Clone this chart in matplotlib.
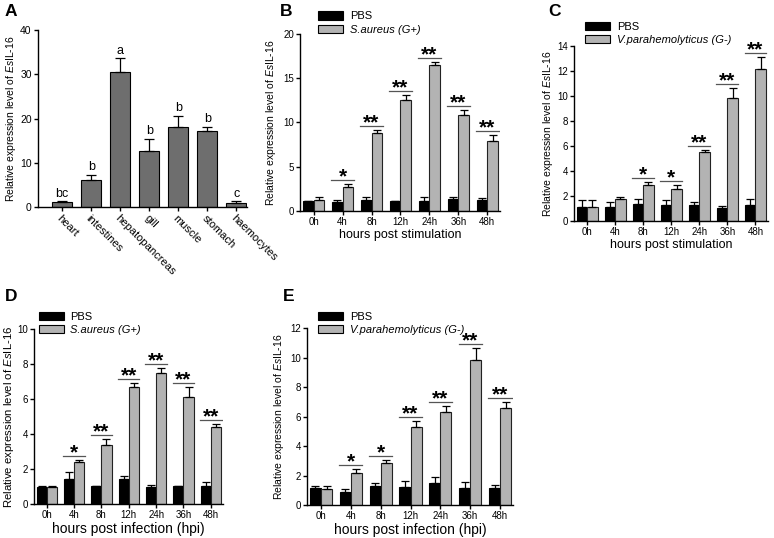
import numpy as np
import matplotlib
matplotlib.use("Agg")
import matplotlib.pyplot as plt
from matplotlib.patches import Patch

plt.rcParams["font.family"] = ["Liberation Sans", "DejaVu Sans"]
plt.rcParams["mathtext.fontset"] = "custom"
plt.rcParams["mathtext.rm"] = "Liberation Sans"
plt.rcParams["mathtext.it"] = "Liberation Sans:italic"

# ---- panel A: tissue distribution ----
tissues = ["heart", "intestines", "hepatopancreas", "gill", "muscle", "stomach", "haemocytes"]
tissue_mean = [1.05, 6.1, 30.5, 12.65, 18.1, 17.1, 0.83]
tissue_err = [0.25, 1.1, 3.1, 2.85, 2.5, 1.0, 0.45]
tissue_letters = ["bc", "b", "a", "b", "b", "b", "c"]

# ---- time course panels ----
times_h = ["0h", "4h", "8h", "12h", "24h", "36h", "48h"]

b_pbs = [1.08, 1.04, 1.19, 1.08, 1.15, 1.31, 1.19]
b_pbs_err = [0.07, 0.23, 0.39, 0.03, 0.47, 0.31, 0.27]
b_trt = [1.23, 2.73, 8.75, 12.57, 16.53, 10.87, 7.85]
b_trt_err = [0.35, 0.31, 0.38, 0.53, 0.30, 0.53, 0.75]
b_sig = ["", "*", "**", "**", "**", "**", "**"]

c_pbs = [1.15, 1.12, 1.39, 1.31, 1.28, 1.09, 1.33]
c_pbs_err = [0.53, 0.40, 0.40, 0.42, 0.27, 0.14, 0.46]
c_trt = [1.15, 1.76, 2.90, 2.59, 5.52, 9.85, 12.19]
c_trt_err = [0.53, 0.16, 0.25, 0.34, 0.18, 0.80, 0.93]
c_sig = ["", "", "*", "*", "**", "**", "**"]

d_pbs = [1.00, 1.45, 1.02, 1.43, 0.96, 1.02, 1.06]
d_pbs_err = [0.06, 0.40, 0.02, 0.19, 0.13, 0.02, 0.20]
d_trt = [1.00, 2.42, 3.40, 6.67, 7.49, 6.10, 4.43]
d_trt_err = [0.06, 0.11, 0.32, 0.25, 0.32, 0.61, 0.14]
d_sig = ["", "*", "**", "**", "**", "**", "**"]

e_pbs = [1.14, 0.91, 1.30, 1.23, 1.52, 1.18, 1.14]
e_pbs_err = [0.18, 0.20, 0.22, 0.38, 0.37, 0.37, 0.25]
e_trt = [1.11, 2.16, 2.86, 5.32, 6.32, 9.83, 6.59]
e_trt_err = [0.21, 0.27, 0.21, 0.36, 0.38, 0.81, 0.41]
e_sig = ["", "*", "*", "**", "**", "**", "**"]

YLABEL = r"Relative expression level of $\it{Es}$IL-16"
PBS_COLOR = "black"
TRT_COLOR = "#b3b3b3"


def style_axes(ax, size=7):
    for s in ["top", "right"]:
        ax.spines[s].set_visible(False)
    for s in ["left", "bottom"]:
        ax.spines[s].set_linewidth(1.0)
    ax.tick_params(direction="out", length=3, width=1.0, labelsize=size, pad=1.5)


def time_panel(rect, letter, pbs, pbs_err, trt, trt_err, sig, ymax, ystep,
               trt_label, xlabel, xlabel_size, ylabel_size, ylabel_pad,
               letter_xy, legend_xy):
    ax = fig.add_axes(rect)
    x = np.arange(len(times_h))
    w = 0.37
    ax.bar(x - w / 2, pbs, w, color=PBS_COLOR, edgecolor="black", linewidth=0.8)
    ax.bar(x + w / 2, trt, w, color=TRT_COLOR, edgecolor="#222222", linewidth=0.8)
    ax.errorbar(x - w / 2, pbs, yerr=[np.zeros(len(x)), pbs_err], fmt="none",
                ecolor="black", elinewidth=0.9, capsize=3, capthick=0.9)
    ax.errorbar(x + w / 2, trt, yerr=[np.zeros(len(x)), trt_err], fmt="none",
                ecolor="black", elinewidth=0.9, capsize=3, capthick=0.9)
    for i, s in enumerate(sig):
        if not s:
            continue
        top = max(pbs[i] + pbs_err[i], trt[i] + trt_err[i])
        yl = top + ymax * 0.023
        ax.plot([x[i] - 0.39, x[i] + 0.39], [yl, yl], color="#555555", lw=0.9)
        ax.annotate(s, (x[i], yl), xytext=(0, -1.8), textcoords="offset points",
                    ha="center", va="baseline", fontsize=15, fontweight="bold")
    ax.set_xlim(-0.46, 6.44)
    ax.set_ylim(0, ymax)
    ax.set_yticks(np.arange(0, ymax + 0.01, ystep))
    ax.set_xticks(x)
    ax.set_xticklabels(times_h)
    ax.set_ylabel(YLABEL, fontsize=ylabel_size, labelpad=ylabel_pad)
    ax.set_xlabel(xlabel, fontsize=xlabel_size, labelpad=1)
    style_axes(ax)
    handles = [Patch(facecolor=PBS_COLOR, edgecolor="black", linewidth=0.8),
               Patch(facecolor=TRT_COLOR, edgecolor="black", linewidth=0.8)]
    leg = fig.legend(handles, ["PBS", trt_label], loc="upper left",
                     bbox_to_anchor=legend_xy, frameon=False, fontsize=8,
                     handlelength=2.25, handleheight=0.8, handletextpad=0.6,
                     labelspacing=0.3, borderpad=0, borderaxespad=0)
    leg.get_texts()[1].set_style("italic")
    fig.text(letter_xy[0], letter_xy[1], letter, fontsize=12.5, fontweight="bold",
             va="top", ha="left")
    return ax


fig = plt.figure(figsize=(7.74, 5.38), dpi=100)

# panel A
axA = fig.add_axes([0.049, 0.615, 0.270, 0.329])
xa = np.arange(len(tissues))
axA.bar(xa, tissue_mean, 0.7, color="#6e6e6e", edgecolor="black", linewidth=0.8)
axA.errorbar(xa, tissue_mean, yerr=[np.zeros(len(xa)), tissue_err], fmt="none",
             ecolor="black", elinewidth=0.9, capsize=3.5, capthick=0.9)
for i, lab in enumerate(tissue_letters):
    axA.text(xa[i], tissue_mean[i] + tissue_err[i] + 0.4, lab, ha="center",
             va="bottom", fontsize=9)
axA.set_xlim(-0.84, 6.37)
axA.set_ylim(0, 40)
axA.set_yticks([0, 10, 20, 30, 40])
axA.set_xticks(xa)
axA.set_xticklabels(tissues, rotation=-45, ha="left", va="top",
                    rotation_mode="anchor")
axA.set_ylabel(YLABEL, fontsize=7.5, labelpad=1.5)
style_axes(axA, size=7.5)
axA.tick_params(axis="x", labelsize=8)
fig.text(0.006, 0.993, "A", fontsize=12.5, fontweight="bold", va="top", ha="left")

time_panel([0.388, 0.608, 0.258, 0.329], "B", b_pbs, b_pbs_err, b_trt, b_trt_err,
           b_sig, 20, 5, "S.aureus (G+)", "hours post stimulation", 9, 7.5, 4,
           (0.362, 0.993), (0.411, 0.979))
time_panel([0.742, 0.589, 0.250, 0.325], "C", c_pbs, c_pbs_err, c_trt, c_trt_err,
           c_sig, 14, 2, "V.parahemolyticus (G-)", "hours post stimulation", 9, 7.5, 1.5,
           (0.708, 0.993), (0.756, 0.960))
time_panel([0.044, 0.063, 0.244, 0.325], "D", d_pbs, d_pbs_err, d_trt, d_trt_err,
           d_sig, 10, 2, "S.aureus (G+)", "hours post infection (hpi)", 10, 8.2, 0.5,
           (0.006, 0.462), (0.050, 0.421))
time_panel([0.397, 0.061, 0.266, 0.329], "E", e_pbs, e_pbs_err, e_trt, e_trt_err,
           e_sig, 12, 2, "V.parahemolyticus (G-)", "hours post infection (hpi)", 10, 7.5, 3,
           (0.366, 0.462), (0.411, 0.421))

fig.savefig("out.png", dpi=100)
